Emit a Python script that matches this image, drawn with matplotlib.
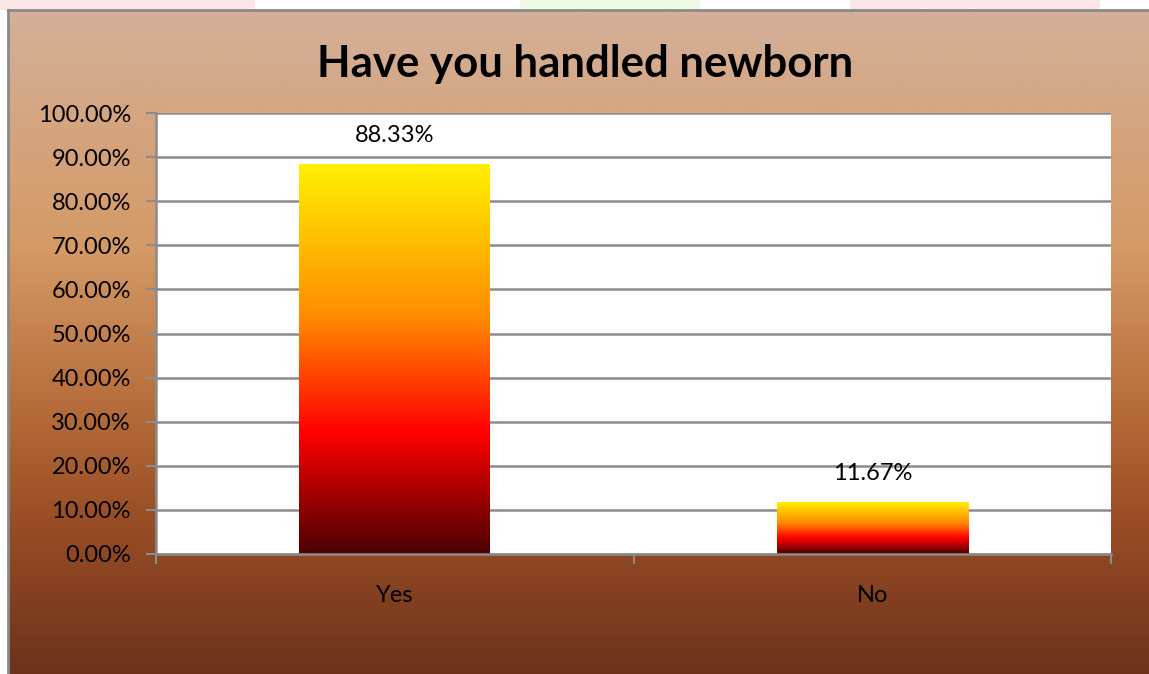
import matplotlib.pyplot as plt
import numpy as np
from matplotlib.colors import LinearSegmentedColormap

W, H = 1149, 674

categories = ["Yes", "No"]
percentages = [88.33, 11.67]
y_ticks = [0, 10, 20, 30, 40, 50, 60, 70, 80, 90, 100]

plt.rcParams['font.family'] = ['Lato', 'DejaVu Sans']

fig = plt.figure(figsize=(W / 100, H / 100), dpi=100)
fig.patch.set_facecolor('white')

# background panel: tan at the top fading to dark brown
bg = fig.add_axes([0, 0, 1, 1], zorder=0)
bg.axis('off')
bg_stops = [(0.0, '#d4b09a'), (0.15, '#d4a682'), (0.35, '#d59a66'),
            (0.6, '#b46a38'), (0.75, '#9a4e26'), (1.0, '#69301a')]
bg_cmap = LinearSegmentedColormap.from_list('panel', bg_stops)
grad = np.linspace(0, 1, 256).reshape(-1, 1)
top = 1 - 10 / H
bg.imshow(grad, cmap=bg_cmap, aspect='auto',
          extent=[8 / W, 1.02, -0.02, top], zorder=0)
# faint tinted strip along the top edge
bg.fill_between([0, 255 / W], top, 1, color='#fde6e6', lw=0, zorder=0)
bg.fill_between([520 / W, 700 / W], top, 1, color='#eef9e6', lw=0, zorder=0)
bg.fill_between([850 / W, 1100 / W], top, 1, color='#fde6e6', lw=0, zorder=0)
bg.plot([8 / W, 8 / W], [-0.02, top], color='#8a8a8a', lw=2, zorder=1)
bg.plot([8 / W, 1.02], [top, top], color='#8a8a8a', lw=2, zorder=1)
bg.set_xlim(0, 1)
bg.set_ylim(0, 1)

fig.text(585 / W, 1 - 64 / H, "Have you handled newborn", ha='center', va='center',
         fontsize=31.5, fontweight='bold', color='black')

ax = fig.add_axes([156 / W, 1 - 554 / H, (1111 - 156) / W, (554 - 113) / H], zorder=1)
ax.set_facecolor('white')

bar_cmap = LinearSegmentedColormap.from_list(
    'fire', [(0.0, '#4a0000'), (0.31, '#ff0000'), (0.61, '#ff8c00'), (1.0, '#fff000')])
bar_w = 0.40
x = np.arange(len(categories))
bars = ax.bar(x, percentages, width=bar_w, color='none', zorder=2)
for rect, val in zip(bars, percentages):
    x0 = rect.get_x()
    ax.imshow(grad[::-1], cmap=bar_cmap, aspect='auto',
              extent=[x0, x0 + rect.get_width(), 0, val], zorder=2)
    ax.annotate(f"{val:.2f}%", (rect.get_x() + rect.get_width() / 2, val),
                xytext=(0, 21), textcoords='offset points', ha='center', va='center',
                fontsize=17)
ax.set_xlim(-0.5, 1.5)
ax.set_ylim(0, 100)

ax.set_yticks(y_ticks)
ax.set_yticklabels([f"{t:.2f}%" for t in y_ticks], fontsize=17)
ax.yaxis.grid(True, color='#8c8c8c', lw=1.8, zorder=1)
ax.set_axisbelow(True)

ax.set_xticks(x)
ax.set_xticklabels(categories, fontsize=17)
ax.set_xticks([-0.5, 0.5, 1.5], minor=True)
ax.tick_params(axis='x', which='major', length=0, pad=22)
ax.tick_params(axis='x', which='minor', length=7, width=1.5, color='#8c8c8c')
ax.tick_params(axis='y', length=7, width=1.5, color='#8c8c8c', pad=11)

for side in ['top', 'right']:
    ax.spines[side].set_visible(False)
for side in ['left', 'bottom']:
    ax.spines[side].set_color('#8c8c8c')
    ax.spines[side].set_linewidth(1.8)

fig.savefig('out.png', dpi=100)
